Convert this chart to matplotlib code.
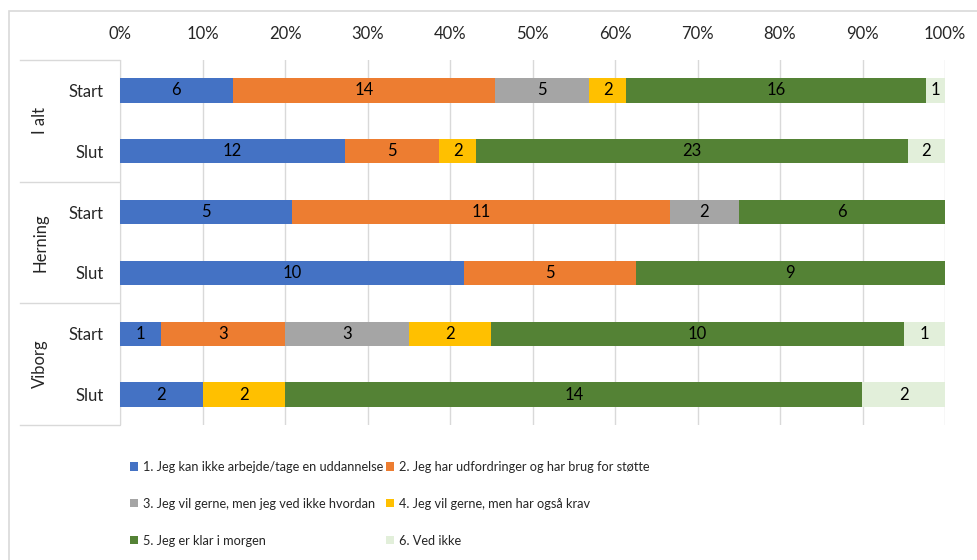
import numpy as np
import matplotlib
matplotlib.use("Agg")
import matplotlib.pyplot as plt
from matplotlib.patches import Patch, Rectangle
from matplotlib.transforms import blended_transform_factory

plt.rcParams["font.family"] = ["Lato", "DejaVu Sans"]

# ---- data -------------------------------------------------------------
groups = ["I alt", "Herning", "Viborg"]
periods = ["Start", "Slut"]
series = [
    "1. Jeg kan ikke arbejde/tage en uddannelse",
    "2. Jeg har udfordringer og har brug for støtte",
    "3. Jeg vil gerne, men jeg ved ikke hvordan",
    "4. Jeg vil gerne, men har også krav",
    "5. Jeg er klar i morgen",
    "6. Ved ikke",
]
# rows: I alt Start, I alt Slut, Herning Start, Herning Slut, Viborg Start, Viborg Slut
s1 = [6, 12, 5, 10, 1, 2]
s2 = [14, 5, 11, 5, 3, 0]
s3 = [5, 0, 2, 0, 3, 0]
s4 = [2, 2, 0, 0, 2, 2]
s5 = [16, 23, 6, 9, 10, 14]
s6 = [1, 2, 0, 0, 1, 2]
colors = ["#4472C4", "#ED7D31", "#A5A5A5", "#FFC000", "#548235", "#E2EFDA"]

counts = np.array([s1, s2, s3, s4, s5, s6], dtype=float)
totals = counts.sum(axis=0)
shares = counts / totals

W, H = 977, 560
FS = 12
fig = plt.figure(figsize=(W / 100, H / 100), dpi=100)
ax = fig.add_axes([120 / W, 1 - 425 / H, 825 / W, 365 / H])

# outer chart frame
fig.patches.append(Rectangle((9 / W, -0.1), 1.2, 1.1 - 11 / H,
                             transform=fig.transFigure, fill=False,
                             edgecolor="#D9D9D9", linewidth=1.2))

y = np.arange(len(s1))
left = np.zeros(len(s1))
for i, name in enumerate(series):
    bars = ax.barh(y, shares[i], left=left, height=0.4, color=colors[i],
                   label=name, zorder=3)
    for b, c in zip(bars, counts[i]):
        if c > 0:
            ax.text(b.get_x() + b.get_width() / 2, b.get_y() + b.get_height() / 2,
                    f"{int(c)}", ha="center", va="center", fontsize=FS,
                    color="#000000", zorder=4)
    left += shares[i]

ax.set_xlim(0, 1)
ax.set_ylim(len(s1) - 0.5, -0.5)
ticks = np.arange(0, 1.01, 0.1)
ax.set_xticks(ticks)
ax.set_xticklabels([f"{int(round(v * 100))}%" for v in ticks])
ax.xaxis.tick_top()
ax.tick_params(axis="x", length=0, pad=13, labelsize=FS, labelcolor="#262626")
ax.set_yticks(y)
ax.set_yticklabels(periods * len(groups))
ax.tick_params(axis="y", length=0, pad=12, labelsize=FS, labelcolor="#262626")
ax.grid(axis="x", color="#D9D9D9", linewidth=1, zorder=0)
for side in ["top", "right", "bottom"]:
    ax.spines[side].set_visible(False)
ax.spines["left"].set_color("#D9D9D9")

# group separators and labels
tr = blended_transform_factory(fig.transFigure, ax.transData)
for k in range(len(groups) + 1):
    yy = 2 * k - 0.5
    ax.plot([20 / W, 119 / W], [yy, yy], transform=tr, color="#D9D9D9",
            linewidth=1, clip_on=False)
for k, g in enumerate(groups):
    ax.text(40 / W, 2 * k + 0.5, g, transform=tr, rotation=90, ha="center",
            va="center", fontsize=FS, color="#262626")

# legend (two columns, row-wise order)
h = [Patch(facecolor=c) for c in colors]
leg_kw = dict(frameon=False, fontsize=9.2, handlelength=0.6, handleheight=0.6,
              handletextpad=0.45, labelspacing=1.95, labelcolor="#262626",
              borderaxespad=0, borderpad=0)
fig.legend(h[0::2], series[0::2], loc="upper left",
           bbox_to_anchor=(130 / W, 1 - 461 / H), **leg_kw)
fig.legend(h[1::2], series[1::2], loc="upper left",
           bbox_to_anchor=(386 / W, 1 - 461 / H), **leg_kw)

fig.savefig("out.png", dpi=100)
